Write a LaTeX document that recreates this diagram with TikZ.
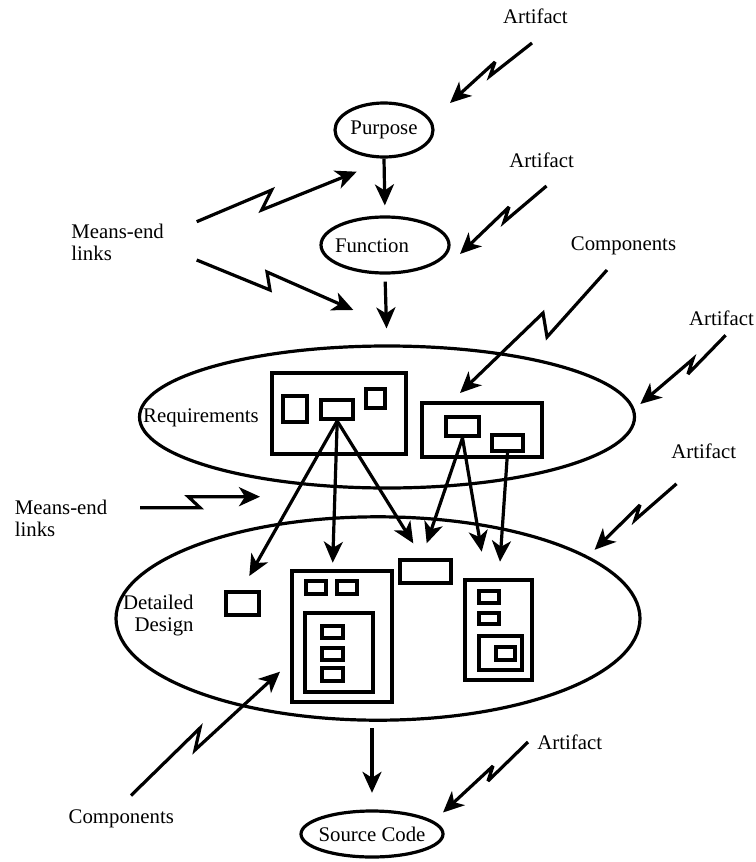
\documentclass[tikz,border=0pt]{standalone}
\usepackage{fontspec}
\setmainfont{Liberation Serif}
\usetikzlibrary{shapes.geometric,arrows.meta}

\begin{document}
\begin{tikzpicture}[x=0.5pt,y=-0.5pt,
	font=\fontsize{10.4}{11}\selectfont,
	ell/.style={draw,ellipse,line width=1.6pt,inner sep=0pt},
	boks/.style={draw,line width=2pt,inner sep=0pt},
	pil/.style={-{Stealth[length=10.5pt,width=9.5pt,inset=3pt]},line width=1.6pt},
	lyn/.style={pil,line join=miter,miter limit=4}]
  %ramme
	\useasboundingbox (0,0) rectangle (755,862);

  %niveauer (ellipser)
	\node[ell,minimum width=49pt,minimum height=27pt] (purpose) at (384,130) {Purpose};
	\node[ell,minimum width=64pt,minimum height=28pt] (function) at (385,245) {};
	\node (functext) at (372,246) {Function};
	\node[ell,minimum width=247.5pt,minimum height=71pt] (req) at (387,417) {};
	\node[ell,minimum width=262pt,minimum height=101.7pt] (dd) at (378,618.5) {};
	\node[ell,minimum width=71pt,minimum height=23pt] (src) at (372,834) {};
	\node (srctext) at (src) {Source Code};
	\node (reqtext) at (201,418) {Requirements};
	\node[anchor=east,align=right,inner sep=0pt] (ddtext) at (194,616) {Detailed\\Design};

  %pile mellem niveauer
	\draw[pil,shorten >=5pt] (purpose.south) -- (function.north);
	\draw[pil,shorten <=3.5pt,shorten >=8pt] (function.south) -- (req.north);
	\draw[pil,shorten <=3.3pt,shorten >=8.3pt] (src.north |- dd.south) -- (src.north);

  %komponenter i requirements
	\node[boks,minimum width=67pt,minimum height=40.5pt] (r1) at (339,413.5) {};
	\node[boks,minimum width=12.3pt,minimum height=13.2pt] (r1a) at (295,409.2) {};
	\node[boks,minimum width=16.2pt,minimum height=9.5pt] (r1b) at (337.2,409.5) {};
	\node[boks,minimum width=9.7pt,minimum height=9.5pt] (r1c) at (375.3,398.8) {};
	\node[boks,minimum width=60pt,minimum height=27.3pt] (r2) at (481.7,430) {};
	\node[boks,minimum width=16.8pt,minimum height=9.3pt] (r2a) at (462.5,426.7) {};
	\node[boks,minimum width=15.8pt,minimum height=7.8pt] (r2b) at (507.5,442.8) {};

  %komponenter i detailed design
	\node[boks,minimum width=16.7pt,minimum height=11.7pt] (d0) at (242.7,603.3) {};
	\node[boks,minimum width=50pt,minimum height=65.8pt] (d1) at (341.7,636.5) {};
	\node[boks,minimum width=10pt,minimum height=6.7pt] (d1a) at (315.7,587.3) {};
	\node[boks,minimum width=10pt,minimum height=6.7pt] (d1b) at (346.7,587.3) {};
	\node[boks,minimum width=34.2pt,minimum height=39.5pt] (d1c) at (339.2,652.2) {};
	\node[boks,minimum width=10.2pt,minimum height=6.2pt] (d1d) at (332.5,632.2) {};
	\node[boks,minimum width=10.2pt,minimum height=6.2pt] (d1e) at (332.5,653.7) {};
	\node[boks,minimum width=10.2pt,minimum height=6.2pt] (d1f) at (332.5,674.5) {};
	\node[boks,minimum width=25.3pt,minimum height=11.3pt] (dm) at (425.3,571.3) {};
	\node[boks,minimum width=33.3pt,minimum height=50pt] (d2) at (498.3,630) {};
	\node[boks,minimum width=10pt,minimum height=6.2pt] (d2a) at (489.3,597.2) {};
	\node[boks,minimum width=10pt,minimum height=5.8pt] (d2b) at (489.3,618.5) {};
	\node[boks,minimum width=21.3pt,minimum height=17pt] (d2c) at (500.7,653) {};
	\node[boks,minimum width=9.5pt,minimum height=6.7pt] (d2d) at (505.5,653.3) {};

  %pile fra requirements til design
	\coordinate (m1) at (249.3,576);
	\coordinate (m2) at (332.7,562.7);
	\coordinate (m3) at (413.3,543.3);
	\coordinate (m4) at (426.7,543.3);
	\coordinate (m5) at (481.7,551.7);
	\coordinate (m6) at (500,561.7);
	\draw[pil] (r1b.south) -- (m1);
	\draw[pil] (r1b.south) -- (m2);
	\draw[pil] (r1b.south) -- (m3);
	\draw[pil] (r2a.south) -- (m4);
	\draw[pil] (r2a.south) -- (m5);
	\draw[pil] (r2b.south) -- (m6);

  %tekster
	\node (art1) at (535.4,16.5) {Artifact};
	\node (art2) at (541.6,160.5) {Artifact};
	\node (art3) at (721.5,317.8) {Artifact};
	\node (art4) at (703.7,450.8) {Artifact};
	\node (art5) at (569.8,742) {Artifact};
	\node (comp1) at (623.5,245.7) {Components};
	\node (comp2) at (121.3,819) {Components};
	\node[anchor=west,align=left,inner sep=0pt] (me1) at (71,242) {Means-end\\links};
	\node[anchor=west,align=left,inner sep=0pt] (me2) at (14.4,518.7) {Means-end\\links};

  %lyn-pile
	\coordinate (z1s) at (532,43);    \coordinate (z1e) at (450,103);
	\draw[lyn] (z1s) -- (490,76) -- (495,62) -- (z1e);
	\coordinate (z2s) at (546.5,186); \coordinate (z2e) at (460,254);
	\draw[lyn] (z2s) -- (504,222) -- (509,207) -- (z2e);
	\coordinate (z3s) at (196.7,221.7); \coordinate (z3e) at (356.7,171.7);
	\draw[lyn] (z3s) -- (271.7,190) -- (261.7,210) -- (z3e);
	\coordinate (z4s) at (196.7,260); \coordinate (z4e) at (353.3,310);
	\draw[lyn] (z4s) -- (270,290) -- (267,272) -- (z4e);
	\coordinate (z5s) at (607,270);   \coordinate (z5e) at (460,393);
	\draw[lyn] (z5s) -- (547,337) -- (543,313) -- (z5e);
	\coordinate (z6s) at (725.6,335.3); \coordinate (z6e) at (640.3,404);
	\draw[lyn] (z6s) -- (688,374) -- (693,359) -- (z6e);
	\coordinate (z7s) at (676.5,483.8); \coordinate (z7e) at (594.6,549.8);
	\draw[lyn] (z7s) -- (635,520) -- (640,505) -- (z7e);
	\coordinate (z8s) at (140,507.7); \coordinate (z8e) at (260,496.7);
	\draw[lyn] (z8s) -- (200,507.7) -- (188.3,496.7) -- (z8e);
	\coordinate (z9s) at (131,795.5); \coordinate (z9e) at (280,671.7);
	\draw[lyn] (z9s) -- (200,728) -- (195,750) -- (z9e);
	\coordinate (z10s) at (528,742);  \coordinate (z10e) at (443,812.5);
	\draw[lyn] (z10s) -- (488,781) -- (493,766) -- (z10e);
\end{tikzpicture}
\end{document}
